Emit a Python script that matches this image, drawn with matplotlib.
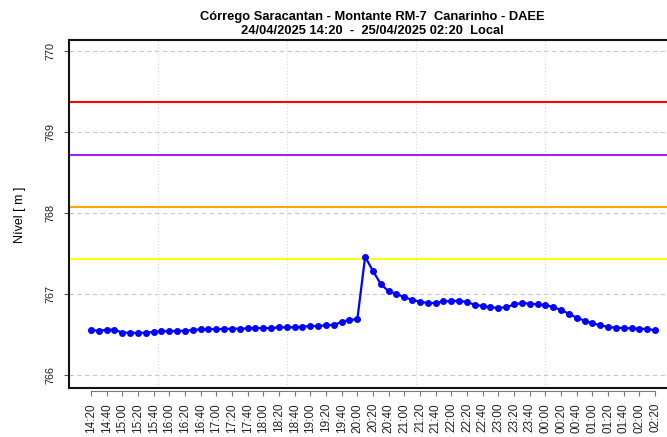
import matplotlib
matplotlib.use("Agg")
import matplotlib.pyplot as plt
import matplotlib.dates as mdates
import pandas as pd
from datetime import timedelta

plt.rcParams['font.family'] = ['Liberation Sans', 'DejaVu Sans']

# leituras a cada 10 min
times = pd.date_range("2025-04-24 14:20", periods=73, freq="10min").to_pydatetime()
nivel = [
    766.560, 766.543, 766.560, 766.560, 766.523, 766.523, 766.519, 766.523,
    766.531, 766.539, 766.543, 766.543, 766.547, 766.556, 766.564, 766.564,
    766.568, 766.568, 766.572, 766.572, 766.576, 766.580, 766.580, 766.580,
    766.589, 766.589, 766.589, 766.597, 766.605, 766.605, 766.613, 766.621,
    766.654, 766.683, 766.687,
    767.460, 767.284, 767.123, 767.033, 767.004, 766.959, 766.930, 766.905,
    766.889, 766.889, 766.909, 766.913, 766.918, 766.901, 766.868, 766.852,
    766.835, 766.831, 766.835, 766.872, 766.889, 766.881, 766.872, 766.864,
    766.840, 766.802, 766.757, 766.708, 766.671, 766.638, 766.617, 766.593,
    766.584, 766.580, 766.576, 766.572, 766.568, 766.552,
]

# cotas de referencia
cotas = [769.37, 768.72, 768.07, 767.43]
cores_cotas = ["#ff0000", "#a020f0", "#ffa500", "#ffff00"]

yticks = [766, 767, 768, 769, 770]
tick_times = times[::2]
tick_labels = [t.strftime("%H:%M") for t in tick_times]
grid_times = pd.to_datetime(["2025-04-24 15:45", "2025-04-24 18:30",
                             "2025-04-24 21:15", "2025-04-25 00:00"]).to_pydatetime()

fig = plt.figure(figsize=(6.67, 4.37), dpi=100)
ax = fig.add_axes([69 / 667, 1 - 388 / 437, (675 - 69) / 667, (388 - 40) / 437])

for c, col in zip(cotas, cores_cotas):
    ax.axhline(c, color=col, lw=1.5, zorder=2)

for y in yticks:
    ax.axhline(y, color="#c8c8c8", lw=0.8, ls=(0, (4, 3)), zorder=1)
for g in grid_times:
    ax.axvline(g, color="#d8d8d8", lw=0.8, ls=(0, (1, 2)), zorder=1)

ax.plot(times, nivel, color="#0000ff", lw=1.6, marker="o", ms=4.0, zorder=3)

ax.set_xlim(times[0] - timedelta(minutes=28), times[0] + timedelta(minutes=745.5))
ax.set_ylim(765.84, 770.136)

ax.set_yticks(yticks)
ax.set_yticklabels([str(v) for v in yticks], rotation=90, va="center", fontsize=7.8, color="#222222")
ax.tick_params(axis="y", direction="out", length=3.6, width=0.8, color="#555555", pad=6)
ax.tick_params(axis="x", bottom=False, labelbottom=False)

for s in ax.spines.values():
    s.set_linewidth(1.5)
    s.set_color("#111111")

sec = ax.secondary_xaxis(-3 / 348)
sec.set_xticks(tick_times)
sec.set_xticklabels(tick_labels, rotation=90, fontsize=8.5, color="#222222")
sec.tick_params(direction="out", length=3.6, width=0.8, color="#777777", pad=5)
sec.spines["bottom"].set_linewidth(0.8)
sec.spines["bottom"].set_color("#777777")
sec.spines["bottom"].set_bounds(mdates.date2num(tick_times[0]), mdates.date2num(tick_times[-1]))

fig.text(372 / 667, 1 - 17 / 437, "Córrego Saracantan - Montante RM-7  Canarinho - DAEE",
         ha="center", va="center", fontsize=9.3, fontweight="bold")
fig.text(372 / 667, 1 - 31 / 437, "24/04/2025 14:20  -  25/04/2025 02:20  Local",
         ha="center", va="center", fontsize=9.3, fontweight="bold")
fig.text(20 / 667, 1 - 215 / 437, "Nível [ m ]", rotation=90, ha="center", va="center", fontsize=9)

fig.savefig("out.png", dpi=100)
